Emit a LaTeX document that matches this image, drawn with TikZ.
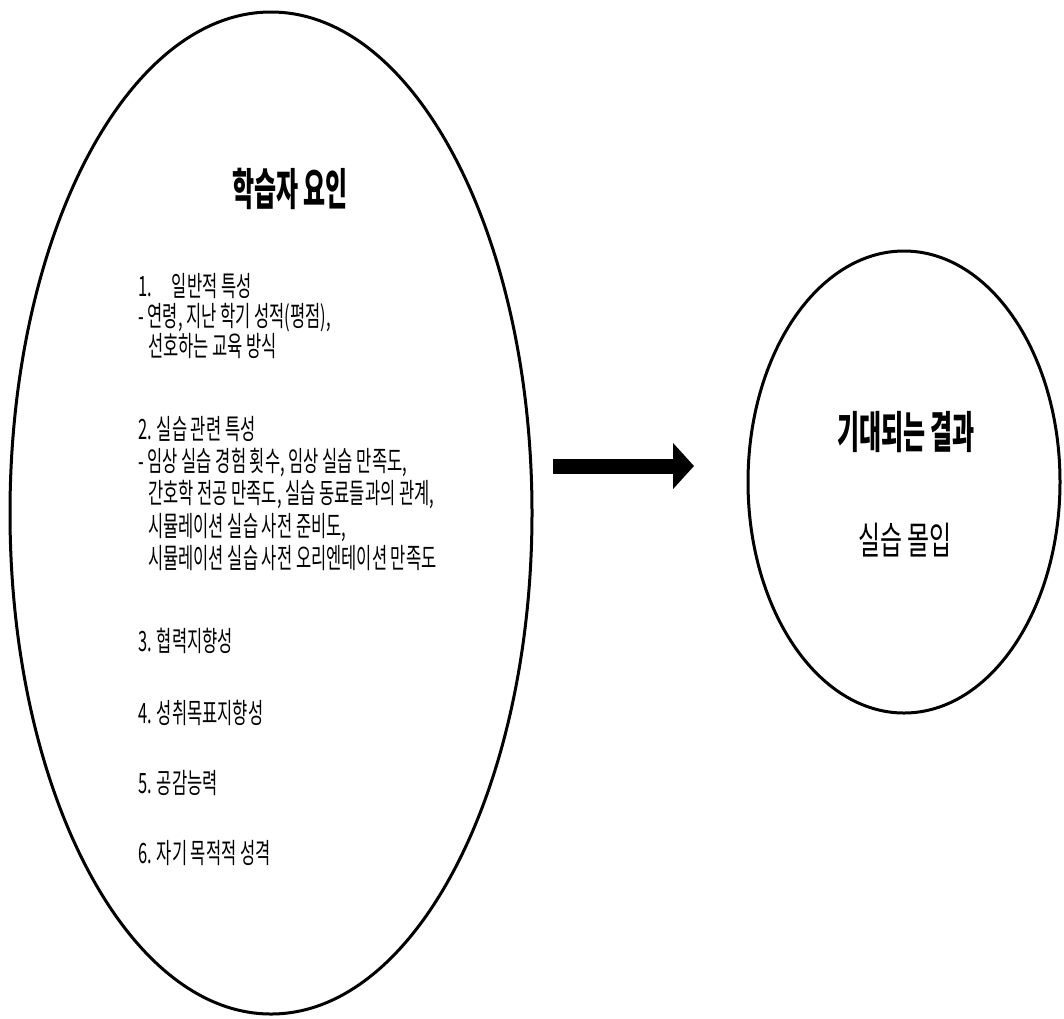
\documentclass[tikz,border=0pt]{standalone}
\usepackage{fontspec}
\setmainfont{Noto Sans CJK KR}[FakeStretch=0.59]
\newfontfamily\headfont{Noto Sans CJK KR}[FakeStretch=0.545]
\newfontfamily\bigfont{Noto Sans CJK KR}[FakeStretch=0.63]
\usetikzlibrary{arrows.meta,shapes.geometric}
\tikzset{
  outline/.style={draw, ellipse, line width=3pt, inner sep=0pt},
  bodytext/.style={anchor=base west, inner sep=0pt, font=\fontsize{28}{33}\selectfont},
  headtext/.style={anchor=base, inner sep=0pt, font=\headfont\bfseries\fontsize{44}{52}\selectfont},
  bigtext/.style={anchor=base, inner sep=0pt, font=\bigfont\fontsize{38}{46}\selectfont},
  flow/.style={line width=15pt, -{Triangle[length=21pt, width=45pt]}}
}
\begin{document}
\begin{tikzpicture}[x=1pt, y=-1pt]
  \useasboundingbox (0,0) rectangle (1064,1018);
  % learner factors
  \node[outline, minimum width=522pt, minimum height=1002pt] (factors) at (271,513) {};
  \node[headtext] (title) at (290,205) {학습자 요인};
  \node[bodytext] (l1) at (138,296) {1.\hspace{20pt}일반적 특성};
  \node[bodytext] (l2) at (138,326) {- 연령, 지난 학기 성적(평점),};
  \node[bodytext] (l3) at (148,356) {선호하는 교육 방식};
  \node[bodytext] (l4) at (138,439) {2. 실습 관련 특성};
  \node[bodytext] (l5) at (138,471) {- 임상 실습 경험 횟수, 임상 실습 만족도,};
  \node[bodytext] (l6) at (148,503) {간호학 전공 만족도, 실습 동료들과의 관계,};
  \node[bodytext] (l7) at (148,536) {시뮬레이션 실습 사전 준비도,};
  \node[bodytext] (l8) at (148,568) {시뮬레이션 실습 사전 오리엔테이션 만족도};
  \node[bodytext] (l9) at (138,651) {3. 협력지향성};
  \node[bodytext] (l10) at (138,723) {4. 성취목표지향성};
  \node[bodytext] (l11) at (138,793) {5. 공감능력};
  \node[bodytext] (l12) at (138,863) {6. 자기 목적적 성격};
  % expected result
  \node[outline, minimum width=312pt, minimum height=462pt] (result) at (904,482) {};
  \node[headtext] (rtitle) at (906,448) {기대되는 결과};
  \node[bigtext] (rtext) at (905,554) {실습 몰입};
  % arrow
  \coordinate (astart) at (553,466);
  \coordinate (aend) at (694,466);
  \draw[flow] (astart) -- (aend);
\end{tikzpicture}
\end{document}
